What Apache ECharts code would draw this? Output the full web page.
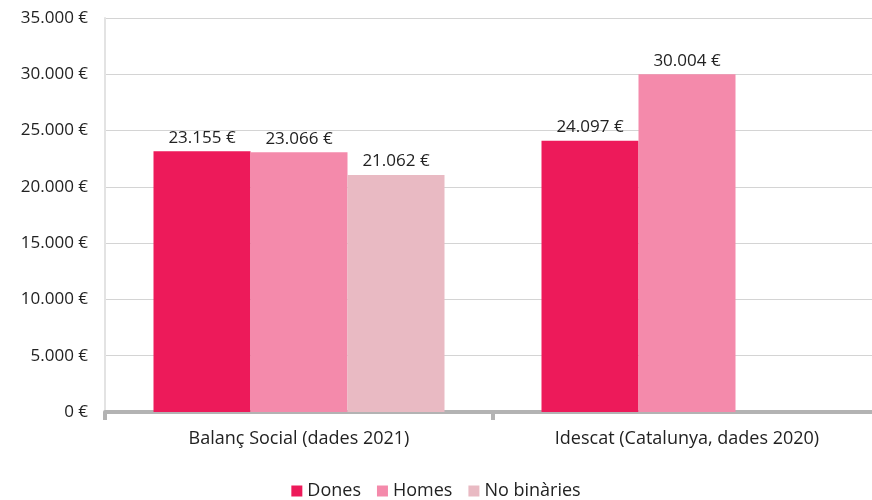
<!DOCTYPE html>
<html>
<head>
<meta charset="utf-8">
<script src="https://cdn.jsdelivr.net/npm/echarts@6/dist/echarts.min.js"></script>
<style>
  html, body { margin: 0; padding: 0; background: #fff; }
  #chart { width: 872px; height: 500px; }
</style>
</head>
<body>
<div id="chart"></div>
<script>
var categories = ["Balanç Social (dades 2021)", "Idescat (Catalunya, dades 2020)"];
var dones = [23155, 24097];
var homes = [23066, 30004];
var noBinaries = [21062, null];

var dom = document.getElementById("chart");
var myChart = echarts.init(dom, null, { renderer: "canvas" });

// format 23155 -> "23.155 €"
function euro(v) {
  return String(v).replace(/\B(?=(\d{3})+(?!\d))/g, ".") + " €";
}

var font = "'Open Sans', sans-serif";

var labelOpt = {
  show: true,
  position: "top",
  distance: 5,
  color: "#222",
  fontSize: 17,
  fontFamily: font,
  formatter: function (p) { return euro(p.value); }
};

var option = {
  animation: false,
  textStyle: { fontFamily: font },
  grid: { left: 105, top: 18, width: 776, height: 394, containLabel: false, outerBoundsMode: "none" },
  legend: {
    top: 477,
    left: "center",
    itemWidth: 11,
    itemHeight: 11,
    itemGap: 16,
    icon: "rect",
    textStyle: { fontSize: 18, color: "#222", fontFamily: font },
    data: ["Dones", "Homes", "No binàries"]
  },
  xAxis: {
    type: "category",
    data: categories,
    axisLine: { lineStyle: { color: "#b3b3b3", width: 4 } },
    axisTick: { show: true, length: 8, lineStyle: { color: "#b3b3b3", width: 4 } },
    axisLabel: { fontSize: 18, color: "#222", margin: 18, fontFamily: font }
  },
  yAxis: {
    type: "value",
    min: 0,
    max: 35000,
    interval: 5000,
    axisLine: { show: true, lineStyle: { color: "#e3e3e3", width: 2 } },
    axisTick: { show: false },
    splitLine: { lineStyle: { color: "#d4d4d4", width: 1 } },
    axisLabel: { fontSize: 17, color: "#222", margin: 17, fontFamily: font, formatter: euro }
  },
  series: [
    { name: "Dones", type: "bar", data: dones, barGap: "0%", barCategoryGap: "25%",
      itemStyle: { color: "#ED1A5A" }, label: labelOpt },
    { name: "Homes", type: "bar", data: homes,
      itemStyle: { color: "#F48AAB" }, label: labelOpt },
    { name: "No binàries", type: "bar", data: noBinaries,
      itemStyle: { color: "#E9BAC3" }, label: labelOpt }
  ]
};

myChart.setOption(option);
window.addEventListener("resize", myChart.resize);
</script>
</body>
</html>
